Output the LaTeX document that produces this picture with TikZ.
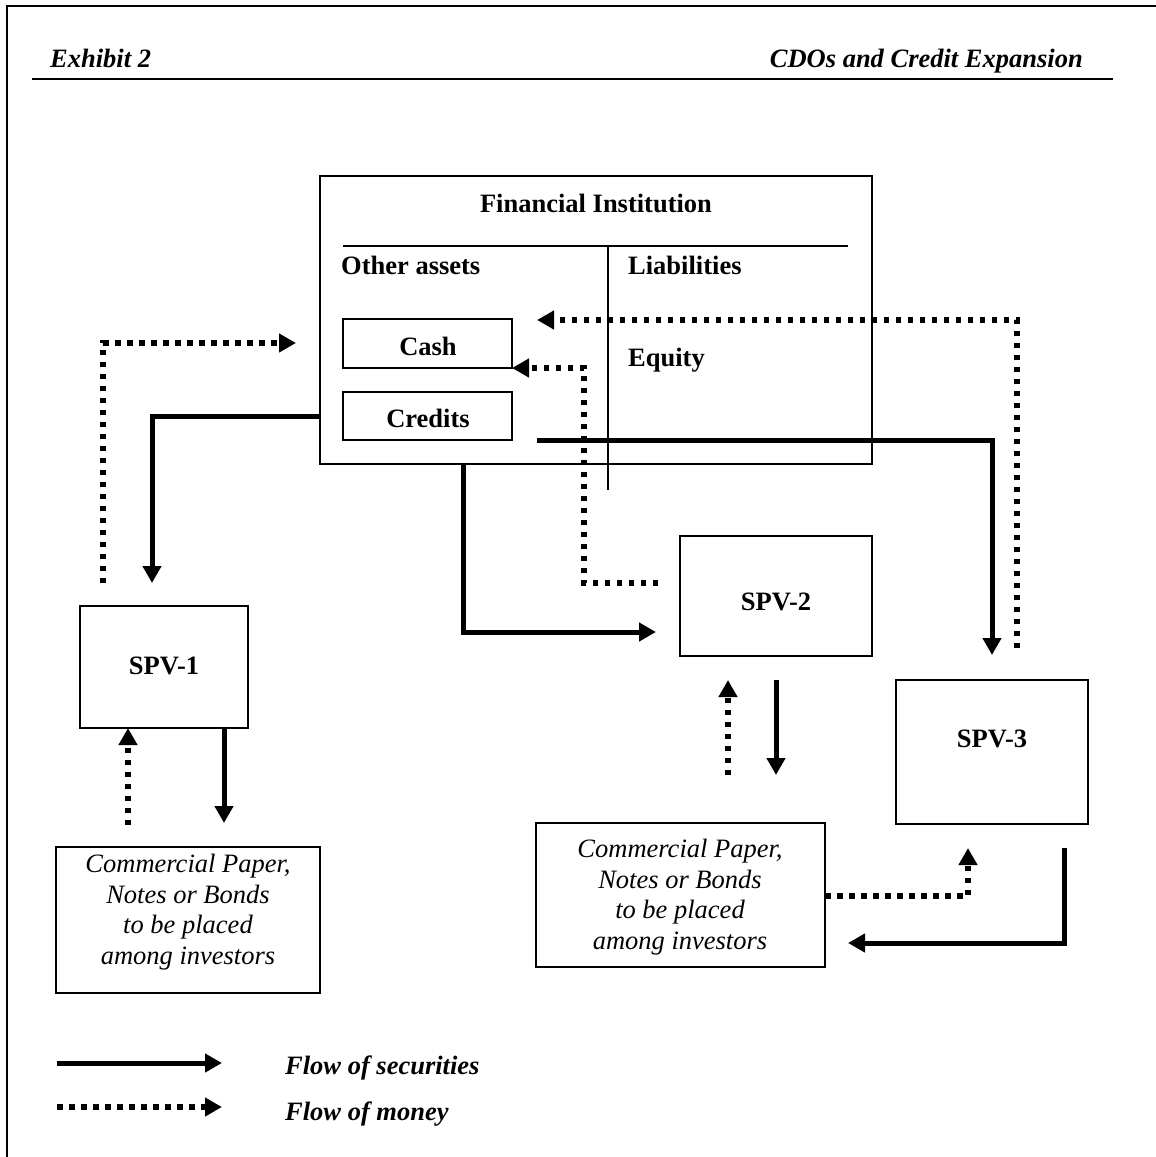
\documentclass[tikz,border=0pt]{standalone}
\usepackage{fontspec}
\setmainfont{Liberation Serif}
\usetikzlibrary{arrows.meta}
\begin{document}
\begin{tikzpicture}[x=1pt,y=-1pt,
  box/.style={draw, line width=1.6pt, inner sep=0pt, outer sep=0pt, anchor=north west},
  lbl/.style={font=\fontsize{26.5}{30}\selectfont\bfseries, inner sep=0pt},
  ital/.style={font=\fontsize{26.5}{30.5}\selectfont\itshape, inner sep=0pt, align=center},
  hdr/.style={font=\fontsize{26.5}{30}\selectfont\bfseries\itshape, inner sep=0pt},
  sec/.style={line width=5pt, -{Triangle[length=17pt,width=18pt]}},
  money/.style={line width=5.5pt, dash pattern=on 5.5pt off 6.5pt, -{Triangle[length=17pt,width=18pt]}},
]
\useasboundingbox (0,0) rectangle (1156,1157);
\fill[white] (0,0) rectangle (1156,1157);
% frame and header
\coordinate (frbl) at (7,1160);
\coordinate (frtl) at (7,6);
\coordinate (frtr) at (1160,6);
\draw[line width=2pt] (frbl) -- (frtl) -- (frtr);
\coordinate (hrl) at (32,79);
\coordinate (hrr) at (1113,79);
\draw[line width=2pt] (hrl) -- (hrr);
\node[hdr, anchor=base west] (exh) at (50,67) {Exhibit 2};
\node[hdr, anchor=base east] (ttl) at (1083,67) {CDOs and Credit Expansion};

% financial institution
\node[box, minimum width=552pt, minimum height=288pt] (fi) at (320,176) {};
\node[lbl, anchor=base] (fit) at (596,212) {Financial Institution};
\coordinate (rl) at (343,246);
\coordinate (rr) at (848,246);
\draw[line width=1.6pt] (rl) -- (rr);
\coordinate (dt) at (608,246);
\coordinate (db) at (608,490);
\draw[line width=1.6pt] (dt) -- (db);
\node[lbl, anchor=base west] (oa) at (341,274) {Other assets};
\node[lbl, anchor=base west] (li) at (628,274) {Liabilities};
\node[lbl, anchor=base west] (eq) at (628,366) {Equity};
\node[box, minimum width=169pt, minimum height=49pt] (cash) at (343,319) {};
\node[lbl, anchor=base] (casht) at (428,355) {Cash};
\node[box, minimum width=169pt, minimum height=48pt] (cred) at (343,392) {};
\node[lbl, anchor=base] (credt) at (428,427) {Credits};

% SPVs
\node[box, minimum width=168pt, minimum height=122pt] (spv1) at (80,606) {};
\node[lbl, anchor=base] (spv1t) at (164,674) {SPV-1};
\node[box, minimum width=192pt, minimum height=120pt] (spv2) at (680,536) {};
\node[lbl, anchor=base] (spv2t) at (776,610) {SPV-2};
\node[box, minimum width=192pt, minimum height=144pt] (spv3) at (896,680) {};
\node[lbl, anchor=base] (spv3t) at (992,747) {SPV-3};

% investors
\node[box, minimum width=264pt, minimum height=146pt] (inv1) at (56,847) {};
\node[ital] (inv1t) at (188,912) {Commercial Paper,\\Notes or Bonds\\to be placed\\among investors};
\node[box, minimum width=289pt, minimum height=144pt] (inv2) at (536,823) {};
\node[ital] (inv2t) at (680,897) {Commercial Paper,\\Notes or Bonds\\to be placed\\among investors};

% connectors: SPV-1
\coordinate (m1s) at (103,583);
\coordinate (m1e) at (296,343);
\draw[money] (m1s) |- (m1e);
\coordinate (s1e) at (152,583);
\draw[sec] (fi.west |- cred.center) -| (s1e);
\coordinate (m2s) at (128,825);
\draw[money] (m2s) -- (spv1.south -| m2s);
\coordinate (s2e) at (224,823);
\draw[sec] (spv1.south -| s2e) -- (s2e);

% connectors: SPV-2
\coordinate (s3x) at (463,0);
\coordinate (s3e) at (656,632);
\draw[sec] (fi.south -| s3x) |- (s3e);
\coordinate (m3s) at (658,583);
\coordinate (m3c) at (584,583);
\draw[money] (m3s) -- (m3c) |- (cash.south east);
\coordinate (m5s) at (728,775);
\coordinate (m5e) at (728,680);
\draw[money] (m5s) -- (m5e);
\coordinate (s5s) at (776,680);
\coordinate (s5e) at (776,775);
\draw[sec] (s5s) -- (s5e);

% connectors: SPV-3
\coordinate (s4s) at (537,440);
\coordinate (s4e) at (992,655);
\draw[sec] (s4s) -| (s4e);
\coordinate (m4s) at (1017,648);
\coordinate (m4e) at (537,320);
\draw[money] (m4s) |- (m4e);
\coordinate (s6s) at (1064,848);
\coordinate (s6e) at (848,943);
\draw[sec] (s6s) |- (s6e);
\coordinate (m6y) at (0,896);
\coordinate (m6e) at (968,848);
\draw[money] (inv2.east |- m6y) -| (m6e);

% legend
\coordinate (l1s) at (57,1063);
\coordinate (l1e) at (222,1063);
\draw[sec] (l1s) -- (l1e);
\coordinate (l2s) at (57,1107);
\coordinate (l2e) at (222,1107);
\draw[money] (l2s) -- (l2e);
\node[hdr, anchor=base west] (lg1) at (285,1074) {Flow of securities};
\node[hdr, anchor=base west] (lg2) at (285,1120) {Flow of money};
\end{tikzpicture}
\end{document}
